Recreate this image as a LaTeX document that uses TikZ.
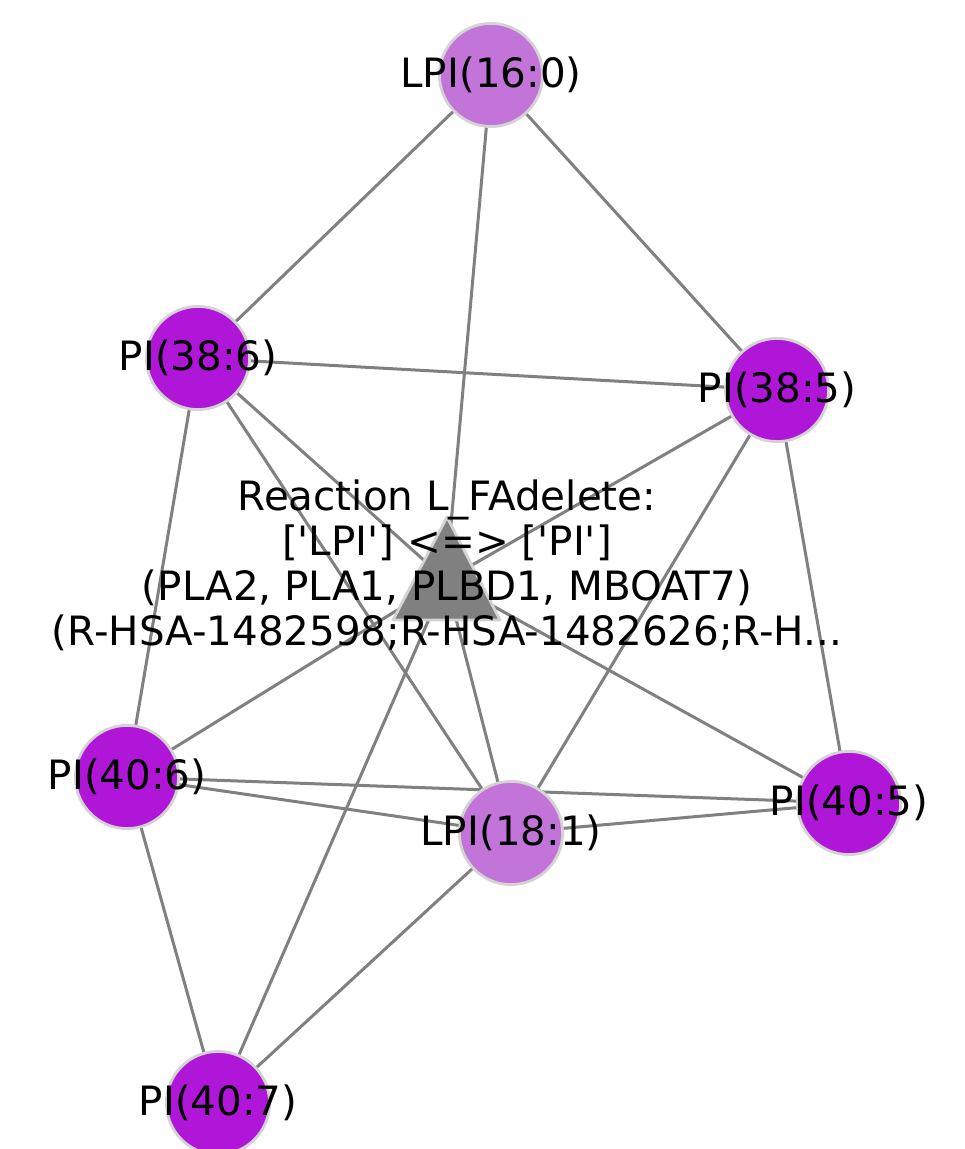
\documentclass[tikz,border=0pt]{standalone}
\usepackage{fontspec}
\newfontfamily\dv{DejaVu Sans}
\definecolor{lpi}{HTML}{C274D9}
\definecolor{pi}{HTML}{B016D8}
\definecolor{edge}{HTML}{808080}
\definecolor{rim}{HTML}{D3D3D3}
\tikzset{
  mol/.style={circle,draw=rim,line width=1.4pt,minimum size=51.6pt,inner sep=0pt},
  lpinode/.style={mol,fill=lpi},
  pinode/.style={mol,fill=pi},
  lbl/.style={font=\dv\fontsize{20.2}{22.5}\selectfont,text=black,inner sep=0pt,align=center},
  link/.style={draw=edge,line width=1.5pt},
}
\begin{document}
\begin{tikzpicture}[x=0.5pt,y=-0.5pt]
\useasboundingbox (0,0) rectangle (964,1149);
% node positions
\coordinate (cL16) at (491,75);
\coordinate (c386) at (198,358);
\coordinate (c385) at (777,390);
\coordinate (cR) at (446,580);
\coordinate (c406) at (127,777);
\coordinate (cL18) at (511,833);
\coordinate (c405) at (849,803);
\coordinate (c407) at (218,1103);
% edges
\draw[link] (cL16) -- (c386);
\draw[link] (cL16) -- (c385);
\draw[link] (cL16) -- (cR);
\draw[link] (c386) -- (c385);
\draw[link] (c386) -- (cR);
\draw[link] (c386) -- (cL18);
\draw[link] (c386) -- (c406);
\draw[link] (c385) -- (cR);
\draw[link] (c385) -- (cL18);
\draw[link] (c385) -- (c405);
\draw[link] (cR) -- (c406);
\draw[link] (cR) -- (c405);
\draw[link] (cR) -- (cL18);
\draw[link] (cR) -- (c407);
\draw[link] (c406) -- (cL18);
\draw[link] (c406) -- (c405);
\draw[link] (cL18) -- (c405);
\draw[link] (c406) -- (c407);
\draw[link] (cL18) -- (c407);
% molecule nodes
\node[lpinode] (L16) at (cL16) {};
\node[pinode] (P386) at (c386) {};
\node[pinode] (P385) at (c385) {};
\node[pinode] (P406) at (c406) {};
\node[lpinode] (L18) at (cL18) {};
\node[pinode] (P405) at (c405) {};
\node[pinode] (P407) at (c407) {};
% reaction triangle
\filldraw[fill=edge,draw=rim,line width=1.4pt,line join=round] (447,517) -- (500,620) -- (393,620) -- cycle;
\coordinate (R) at (cR);
% labels
\node[lbl] (tL16) at (cL16) {LPI(16:0)};
\node[lbl] (t386) at (c386) {PI(38:6)};
\node[lbl] (t385) at (c385) {PI(38:5)};
\node[lbl] (t406) at (c406) {PI(40:6)};
\node[lbl] (tL18) at (cL18) {LPI(18:1)};
\node[lbl] (t405) at (c405) {PI(40:5)};
\node[lbl] (t407) at (c407) {PI(40:7)};
\node[lbl] (tR) at (447,565) {Reaction L\_FAdelete:\\{[}'LPI'{]} <=> {[}'PI'{]}\\(PLA2, PLA1, PLBD1, MBOAT7)\\(R-HSA-1482598;R-HSA-1482626;R-H...};
\end{tikzpicture}
\end{document}
